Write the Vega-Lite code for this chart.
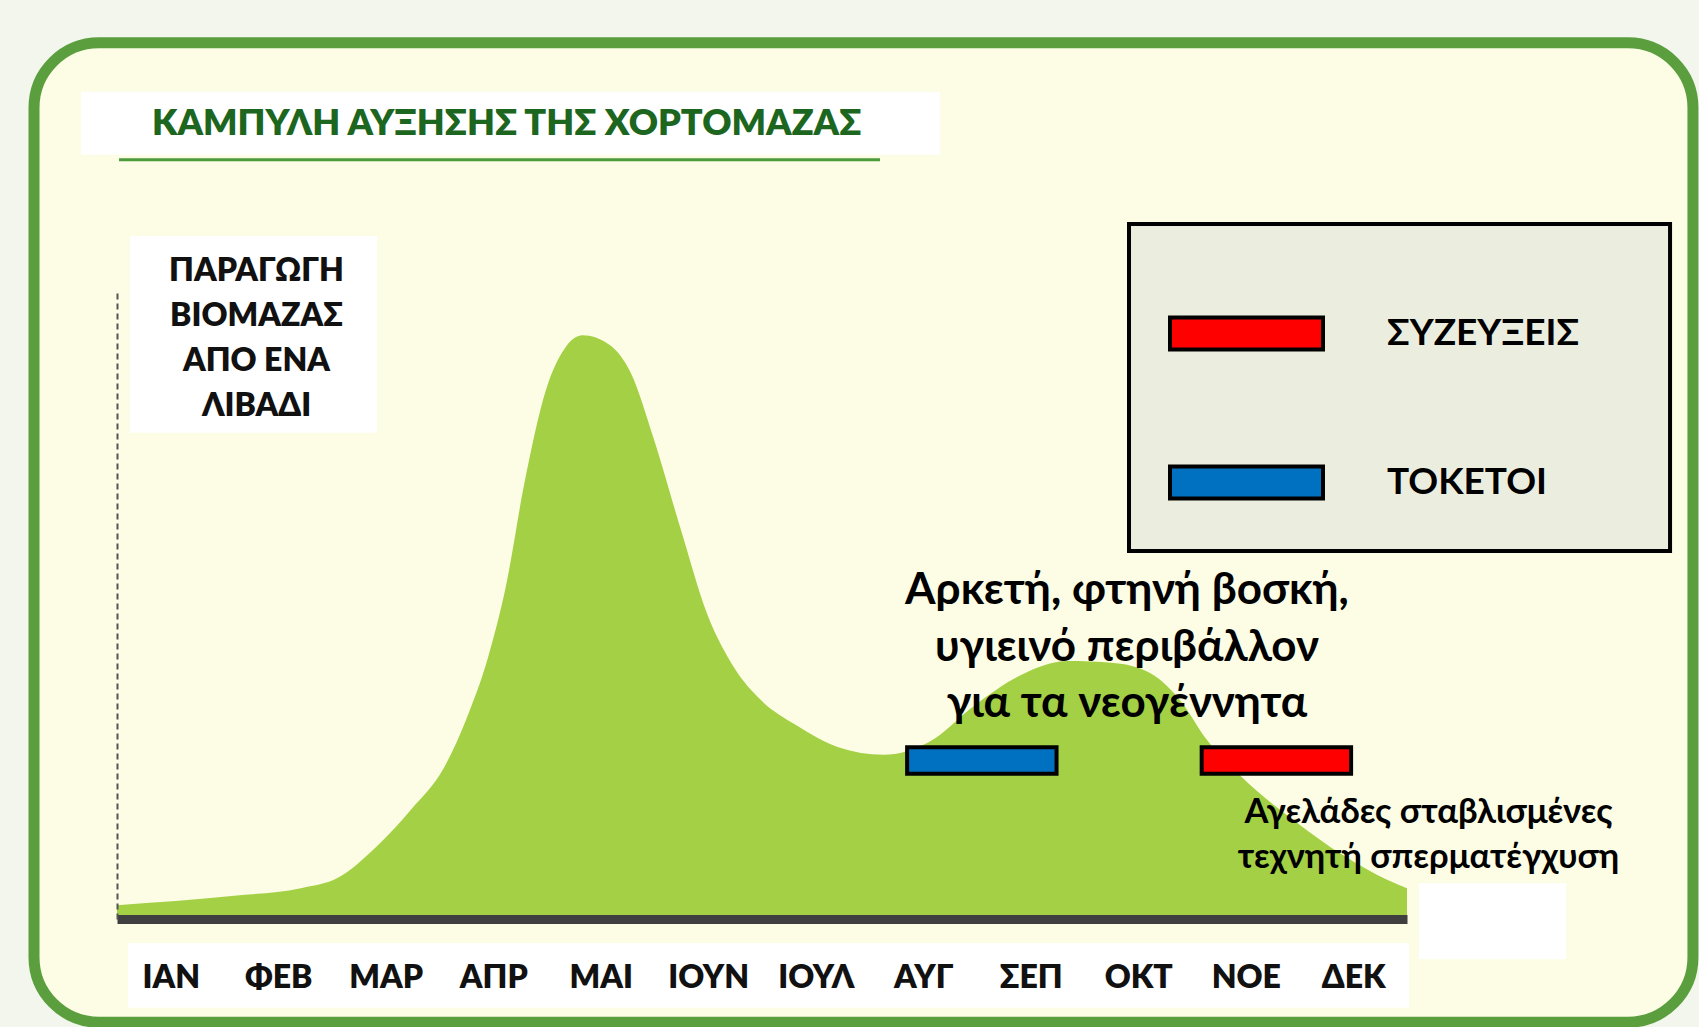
{
  "$schema": "https://vega.github.io/schema/vega-lite/v6.json",
  "width": 1290,
  "height": 629,
  "autosize": {"type": "none"},
  "padding": {"left": 117, "top": 290, "right": 292, "bottom": 108},
  "background": "#f2f6ec",
  "title": {
    "text": "ΚΑΜΠΥΛΗ ΑΥΞΗΣΗΣ ΤΗΣ ΧΟΡΤΟΜΑΖΑΣ",
    "anchor": "start",
    "frame": "group",
    "font": "Lato",
    "fontSize": 36,
    "fontWeight": 800,
    "color": "#1c6620",
    "dx": 35,
    "dy": 106,
    "offset": 0
  },
  "config": {"view": {"stroke": null}, "font": "Lato"},
  "data": {
    "values": [
      {"month_pos": 0, "biomass": 2.2},
      {"month_pos": 1.09, "biomass": 3.7},
      {"month_pos": 1.71, "biomass": 4.9},
      {"month_pos": 2.05, "biomass": 6.5},
      {"month_pos": 2.42, "biomass": 11.6},
      {"month_pos": 2.74, "biomass": 17.5},
      {"month_pos": 3.04, "biomass": 24.0},
      {"month_pos": 3.25, "biomass": 31.8},
      {"month_pos": 3.45, "biomass": 41.5},
      {"month_pos": 3.62, "biomass": 53.1},
      {"month_pos": 3.79, "biomass": 69.3},
      {"month_pos": 3.99, "biomass": 84.1},
      {"month_pos": 4.16, "biomass": 90.6},
      {"month_pos": 4.33, "biomass": 92.8},
      {"month_pos": 4.58, "biomass": 91.3},
      {"month_pos": 4.78, "biomass": 86.8},
      {"month_pos": 4.99, "biomass": 76.5},
      {"month_pos": 5.24, "biomass": 62.2},
      {"month_pos": 5.49, "biomass": 48.5},
      {"month_pos": 5.74, "biomass": 40.0},
      {"month_pos": 5.99, "biomass": 34.8},
      {"month_pos": 6.32, "biomass": 30.8},
      {"month_pos": 6.71, "biomass": 27.3},
      {"month_pos": 7.13, "biomass": 26.1},
      {"month_pos": 7.55, "biomass": 28.1},
      {"month_pos": 7.98, "biomass": 34.0},
      {"month_pos": 8.41, "biomass": 38.8},
      {"month_pos": 8.84, "biomass": 41.0},
      {"month_pos": 9.27, "biomass": 40.7},
      {"month_pos": 9.61, "biomass": 39.1},
      {"month_pos": 9.91, "biomass": 34.3},
      {"month_pos": 10.12, "biomass": 28.9},
      {"month_pos": 10.46, "biomass": 22.6},
      {"month_pos": 10.97, "biomass": 15.4},
      {"month_pos": 11.4, "biomass": 10.2},
      {"month_pos": 11.82, "biomass": 6.2},
      {"month_pos": 12, "biomass": 4.9}
    ]
  },
  "layer": [
    {
      "data": {"values": [{}]},
      "mark": {"type": "rect", "fill": "#fcfde4", "stroke": "#5a9e3e", "strokeWidth": 11, "cornerRadius": 65},
      "encoding": {
        "x": {"datum": -0.772, "type": "quantitative"},
        "x2": {"datum": 14.66},
        "y": {"datum": 139.3, "type": "quantitative"},
        "y2": {"datum": -16.4}
      }
    },
    {
      "data": {"values": [{}]},
      "mark": {"type": "rect", "fill": "#ffffff"},
      "encoding": {
        "x": {"datum": -0.335, "type": "quantitative"},
        "x2": {"datum": 7.656},
        "y": {"datum": 131.5, "type": "quantitative"},
        "y2": {"datum": 121.5}
      }
    },
    {
      "data": {"values": [{}]},
      "mark": {"type": "rect", "fill": "#ffffff"},
      "encoding": {
        "x": {"datum": 0.12, "type": "quantitative"},
        "x2": {"datum": 2.42},
        "y": {"datum": 108.6, "type": "quantitative"},
        "y2": {"datum": 77.3}
      }
    },
    {
      "data": {"values": [{}]},
      "mark": {"type": "rect", "fill": "#ffffff"},
      "encoding": {
        "x": {"datum": 0.102, "type": "quantitative"},
        "x2": {"datum": 12.02},
        "y": {"datum": -3.8, "type": "quantitative"},
        "y2": {"datum": -14.1}
      }
    },
    {
      "data": {"values": [{}]},
      "mark": {"type": "rect", "fill": "#ffffff"},
      "encoding": {
        "x": {"datum": 12.11, "type": "quantitative"},
        "x2": {"datum": 13.48},
        "y": {"datum": 5.7, "type": "quantitative"},
        "y2": {"datum": -6.4}
      }
    },
    {
      "data": {"values": [{}]},
      "mark": {"type": "rule", "stroke": "#4b9b3c", "strokeWidth": 3},
      "encoding": {
        "x": {"datum": 0.019, "type": "quantitative"},
        "x2": {"datum": 7.098},
        "y": {"datum": 120.7, "type": "quantitative"}
      }
    },
    {
      "data": {"values": [{}]},
      "mark": {"type": "rect", "fill": "#ebeedf", "stroke": "#000000", "strokeWidth": 4},
      "encoding": {
        "x": {"datum": 9.414, "type": "quantitative"},
        "x2": {"datum": 14.447},
        "y": {"datum": 110.5, "type": "quantitative"},
        "y2": {"datum": 58.5}
      }
    },
    {
      "mark": {"type": "area", "interpolate": "monotone", "color": "#a4d045"},
      "encoding": {
        "x": {
          "field": "month_pos",
          "type": "quantitative",
          "scale": {"domain": [0, 12], "nice": false, "zero": false},
          "axis": {
            "title": null,
            "values": [0.5, 1.5, 2.5, 3.5, 4.5, 5.5, 6.5, 7.5, 8.5, 9.5, 10.5, 11.5],
            "labelExpr": "['ΙΑΝ','ΦΕΒ','ΜΑΡ','ΑΠΡ','ΜΑΙ','ΙΟΥΝ','ΙΟΥΛ','ΑΥΓ','ΣΕΠ','ΟΚΤ','ΝΟΕ','ΔΕΚ'][floor(datum.value)]",
            "labelFont": "Lato",
            "labelFontWeight": 800,
            "labelFontSize": 32,
            "labelColor": "#111111",
            "labelBaseline": "middle",
            "labelPadding": 58,
            "labelOverlap": false,
            "labelFlush": false,
            "ticks": false,
            "tickSize": 0,
            "grid": false,
            "domainColor": "#3f3f3f",
            "domainWidth": 9,
            "zindex": 1
          }
        },
        "y": {
          "field": "biomass",
          "type": "quantitative",
          "scale": {"domain": [0, 100], "nice": false, "zero": false},
          "axis": {
            "title": ["ΠΑΡΑΓΩΓΗ", "ΒΙΟΜΑΖΑΣ", "ΑΠΟ ΕΝΑ", "ΛΙΒΑΔΙ"],
            "titleAngle": 0,
            "titleX": 139,
            "titleY": -10,
            "titleAlign": "center",
            "titleBaseline": "alphabetic",
            "titleLineHeight": 45,
            "titleFont": "Lato",
            "titleFontSize": 32,
            "titleFontWeight": 800,
            "titleColor": "#111111",
            "labels": false,
            "ticks": false,
            "grid": false,
            "domainColor": "#555555",
            "domainWidth": 2,
            "domainDash": [6, 4],
            "zindex": 1
          }
        }
      }
    },
    {
      "data": {
        "values": [
          {"series": "ΤΟΚΕΤΟΙ", "start": 7.35, "end": 8.74},
          {"series": "ΣΥΖΕΥΞΕΙΣ", "start": 10.09, "end": 11.48}
        ]
      },
      "mark": {"type": "rect", "stroke": "#000000", "strokeWidth": 4},
      "encoding": {
        "x": {"field": "start", "type": "quantitative"},
        "x2": {"field": "end"},
        "y": {"datum": 27.3, "type": "quantitative"},
        "y2": {"datum": 23.1},
        "color": {
          "field": "series",
          "type": "nominal",
          "scale": {"domain": ["ΣΥΖΕΥΞΕΙΣ", "ΤΟΚΕΤΟΙ"], "range": ["#ff0000", "#0070c0"]},
          "legend": {
            "orient": "none",
            "legendX": 1051,
            "legendY": -35,
            "title": null,
            "padding": 0,
            "symbolType": "M-1,-0.209L1,-0.209L1,0.209L-1,0.209Z",
            "symbolSize": 23409,
            "symbolStrokeColor": "#000000",
            "symbolStrokeWidth": 4,
            "symbolOpacity": 1,
            "labelFont": "Lato",
            "labelFontSize": 37,
            "labelFontWeight": "bold",
            "labelColor": "#000000",
            "labelOffset": 62,
            "labelLimit": 0,
            "rowPadding": 46,
            "encode": {
              "symbols": {"update": {"stroke": {"value": "#000000"}, "strokeWidth": {"value": 4}}}
            }
          }
        }
      }
    },
    {
      "data": {"values": [{}]},
      "mark": {
        "type": "text",
        "font": "Lato",
        "fontSize": 44,
        "fontWeight": "bold",
        "lineHeight": 56.5,
        "align": "center",
        "baseline": "middle",
        "color": "#000000"
      },
      "encoding": {
        "x": {"datum": 9.395, "type": "quantitative"},
        "y": {"datum": 52.1, "type": "quantitative"},
        "text": {"value": ["Αρκετή, φτηνή βοσκή,", "υγιεινό περιβάλλον", "για τα νεογέννητα"]}
      }
    },
    {
      "data": {"values": [{}]},
      "mark": {
        "type": "text",
        "font": "Lato",
        "fontSize": 34.5,
        "fontWeight": "bold",
        "lineHeight": 45,
        "align": "center",
        "baseline": "middle",
        "color": "#000000"
      },
      "encoding": {
        "x": {"datum": 12.2, "type": "quantitative"},
        "y": {"datum": 16.9, "type": "quantitative"},
        "text": {"value": ["Αγελάδες σταβλισμένες", "τεχνητή σπερματέγχυση"]}
      }
    }
  ]
}
